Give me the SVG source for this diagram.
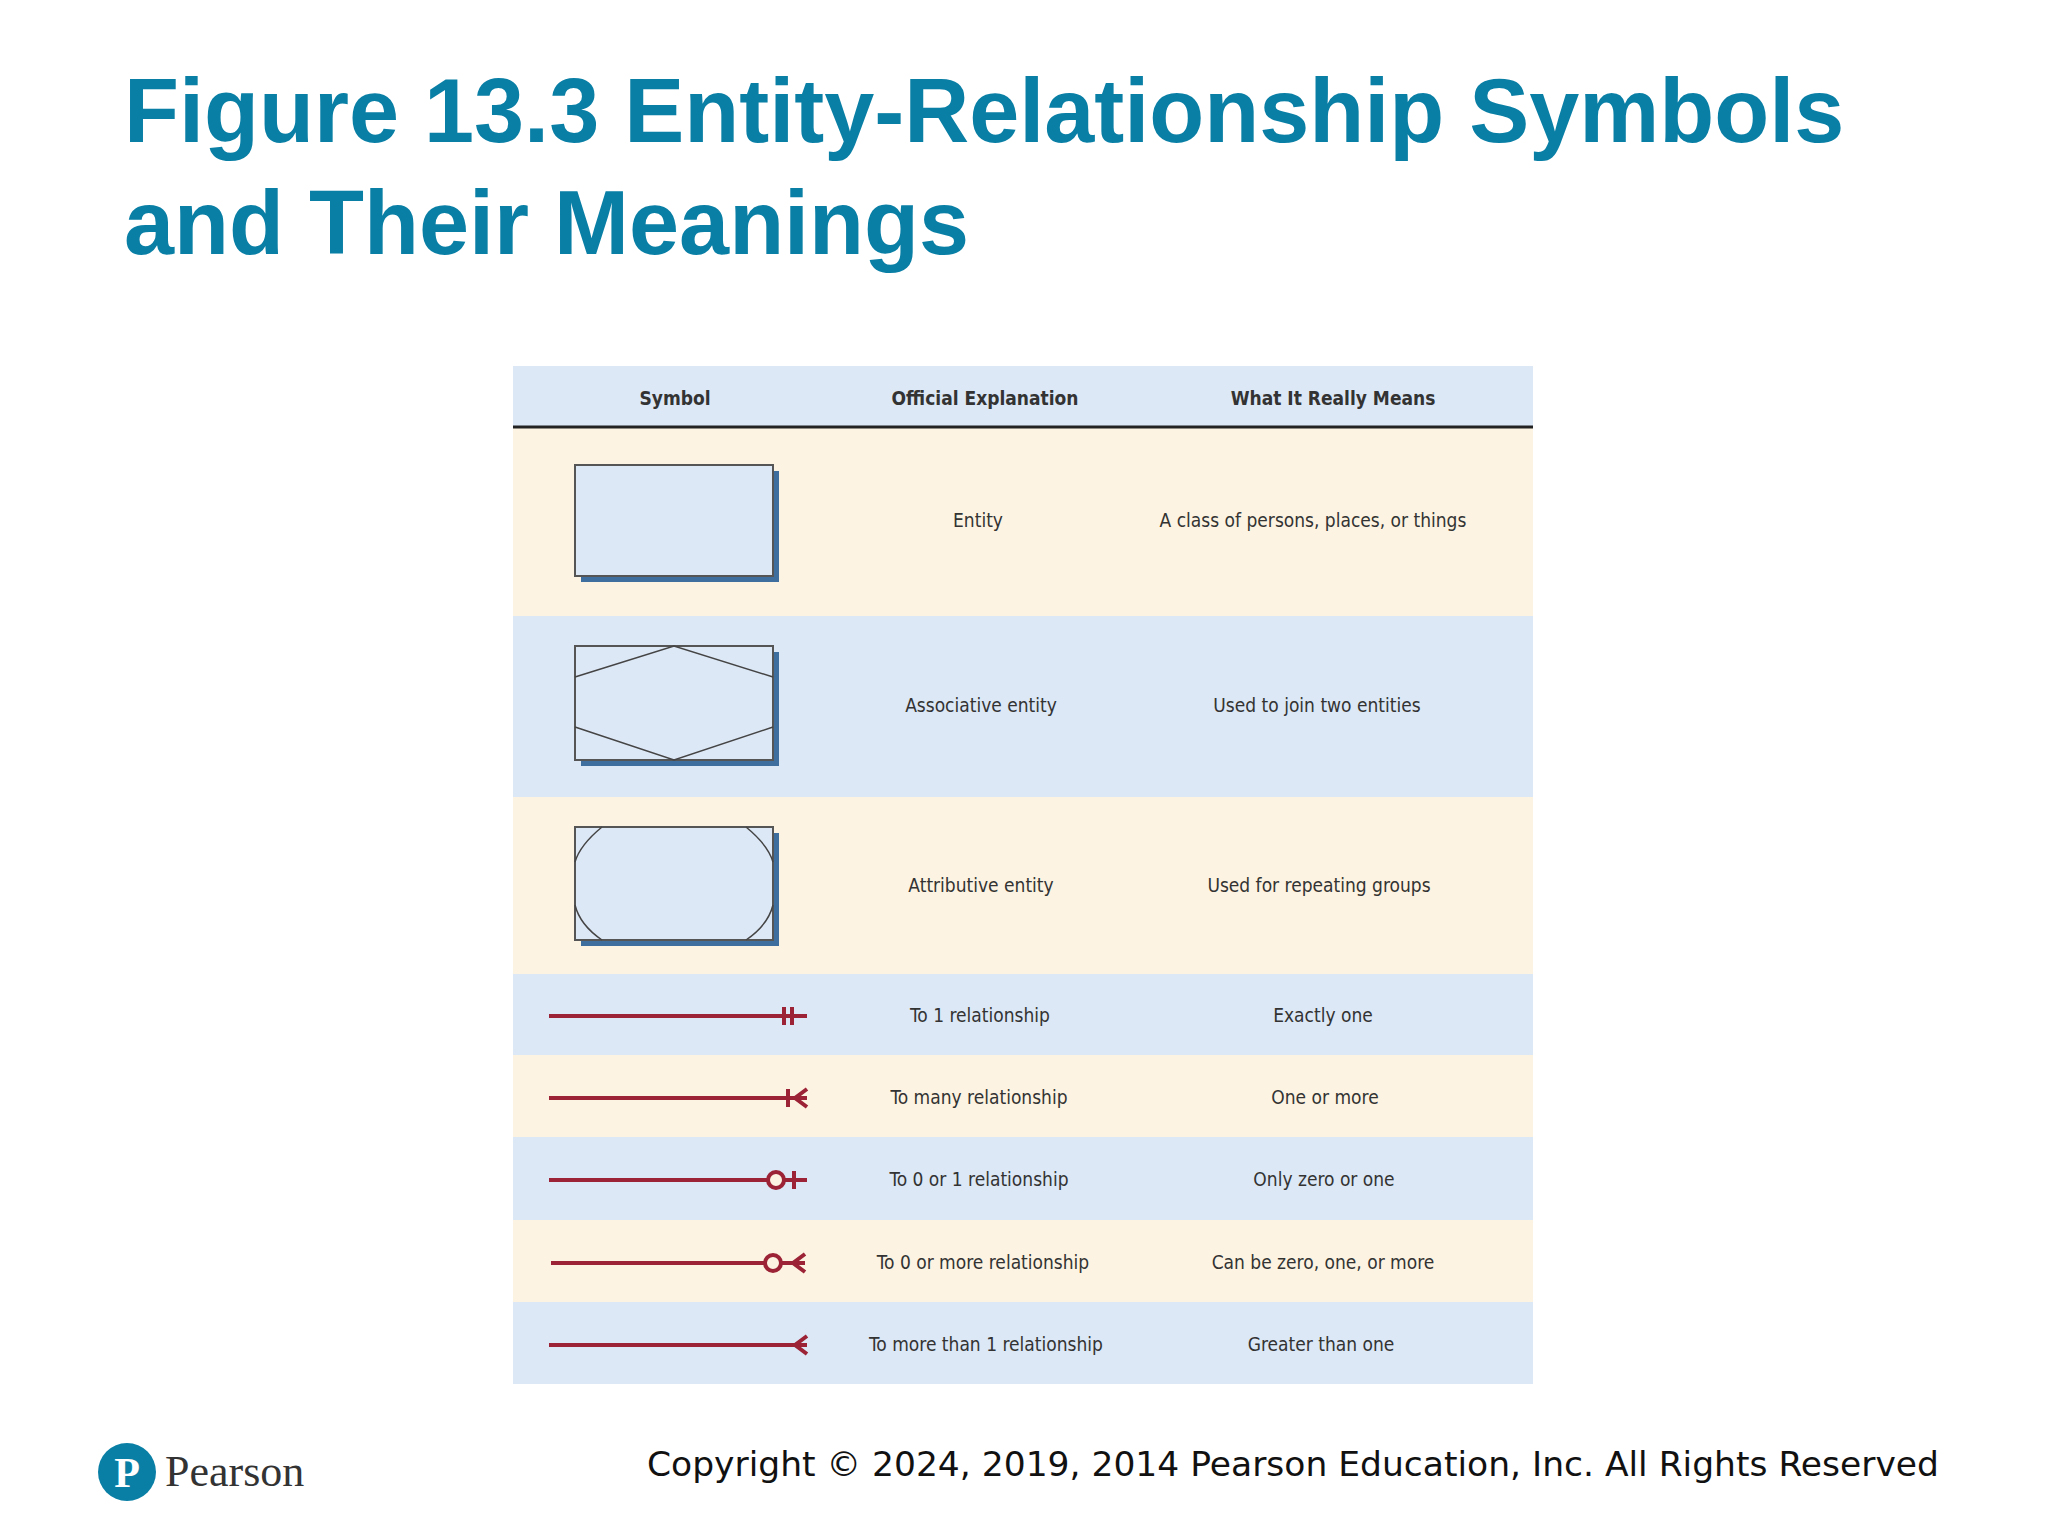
<svg xmlns="http://www.w3.org/2000/svg" width="2048" height="1536" viewBox="0 0 2048 1536">
<style>
.t{font-family:"DejaVu Sans Condensed","DejaVu Sans",sans-serif;font-size:19px;fill:#333;text-anchor:middle}
.h{font-weight:bold}
.box{fill:#dde8f6;stroke:#555;stroke-width:2}
.sh{fill:#3d6e9e}
.thin{fill:none;stroke:#444;stroke-width:1.5}
.rl{stroke:#9b2335;stroke-width:4;fill:none}
</style>
<rect width="2048" height="1536" fill="#fff"/>
<text x="124" y="142" font-family="Liberation Sans, Arial, sans-serif" font-weight="bold" font-size="90" fill="#0a7fa6">Figure 13.3 Entity-Relationship Symbols</text>
<text x="124" y="254" font-family="Liberation Sans, Arial, sans-serif" font-weight="bold" font-size="90" fill="#0a7fa6">and Their Meanings</text>
<g id="table">
<rect x="513" y="366" width="1020" height="60" fill="#dce8f6"/>
<rect x="513" y="428" width="1020" height="188" fill="#fdf3e2"/>
<rect x="513" y="616" width="1020" height="181" fill="#dce8f6"/>
<rect x="513" y="797" width="1020" height="177" fill="#fdf3e2"/>
<rect x="513" y="974" width="1020" height="81" fill="#dce8f6"/>
<rect x="513" y="1055" width="1020" height="82" fill="#fdf3e2"/>
<rect x="513" y="1137" width="1020" height="83" fill="#dce8f6"/>
<rect x="513" y="1220" width="1020" height="82" fill="#fdf3e2"/>
<rect x="513" y="1302" width="1020" height="82" fill="#dce8f6"/>
<line x1="513" y1="427" x2="1533" y2="427" stroke="#222" stroke-width="3"/>
<text class="t h" x="675" y="405">Symbol</text>
<text class="t h" x="985" y="405">Official Explanation</text>
<text class="t h" x="1333" y="405">What It Really Means</text>
</g>
<g id="entity">
<rect class="sh" x="581" y="471" width="198" height="111"/>
<rect class="box" x="575" y="465" width="198" height="111"/>
<text class="t" x="978" y="527">Entity</text>
<text class="t" x="1313" y="527">A class of persons, places, or things</text>
</g>
<g id="associative">
<rect class="sh" x="581" y="652" width="198" height="114"/>
<rect class="box" x="575" y="646" width="198" height="114"/>
<polyline class="thin" points="575,677 674,646 773,677"/>
<polyline class="thin" points="575,727 674,760 773,727"/>
<text class="t" x="981" y="712">Associative entity</text>
<text class="t" x="1317" y="712">Used to join two entities</text>
</g>
<g id="attributive">
<rect class="sh" x="581" y="833" width="198" height="113"/>
<rect class="box" x="575" y="827" width="198" height="113"/>
<path class="thin" d="M602,827 Q580,845 575,862 M746,827 Q768,845 773,862 M575,905 Q580,925 602,940 M773,905 Q768,925 746,940"/>
<text class="t" x="981" y="892">Attributive entity</text>
<text class="t" x="1319" y="892">Used for repeating groups</text>
</g>
<g id="connectors">
<g id="to1">
<line class="rl" x1="549" y1="1016" x2="807" y2="1016"/>
<line class="rl" x1="784" y1="1007" x2="784" y2="1025"/>
<line class="rl" x1="792" y1="1007" x2="792" y2="1025"/>
</g>
<g id="tomany">
<line class="rl" x1="549" y1="1098" x2="807" y2="1098"/>
<line class="rl" x1="788" y1="1089" x2="788" y2="1107"/>
<polyline class="rl" points="807,1089 795,1098 807,1107"/>
</g>
<g id="to01">
<line class="rl" x1="549" y1="1180" x2="807" y2="1180"/>
<circle cx="776" cy="1180" r="8" fill="#fdf3e2" stroke="#9b2335" stroke-width="4"/>
<line class="rl" x1="794" y1="1171" x2="794" y2="1189"/>
</g>
<g id="to0more">
<line class="rl" x1="551" y1="1263" x2="805" y2="1263"/>
<circle cx="773" cy="1263" r="8" fill="#fdf3e2" stroke="#9b2335" stroke-width="4"/>
<polyline class="rl" points="805,1254 793,1263 805,1272"/>
</g>
<g id="tomorethan1">
<line class="rl" x1="549" y1="1345" x2="807" y2="1345"/>
<polyline class="rl" points="807,1336 795,1345 807,1354"/>
</g>
</g>
<g id="rowtext">
<text class="t" x="980" y="1022">To 1 relationship</text>
<text class="t" x="1323" y="1022">Exactly one</text>
<text class="t" x="979" y="1104">To many relationship</text>
<text class="t" x="1325" y="1104">One or more</text>
<text class="t" x="979" y="1186">To 0 or 1 relationship</text>
<text class="t" x="1324" y="1186">Only zero or one</text>
<text class="t" x="983" y="1269">To 0 or more relationship</text>
<text class="t" x="1323" y="1269">Can be zero, one, or more</text>
<text class="t" x="986" y="1351">To more than 1 relationship</text>
<text class="t" x="1321" y="1351">Greater than one</text>
</g>
<g id="footer">
<circle cx="127" cy="1472" r="29" fill="#0a7fa6"/>
<text x="127" y="1487" font-family="Liberation Serif, serif" font-weight="bold" font-size="42" fill="#fff" text-anchor="middle">P</text>
<text x="165" y="1486" font-family="Liberation Serif, serif" font-size="44" fill="#333">Pearson</text>
<text x="1939" y="1476" font-family="DejaVu Sans, sans-serif" font-size="34.5" fill="#111" text-anchor="end">Copyright © 2024, 2019, 2014 Pearson Education, Inc. All Rights Reserved</text>
</g>
</svg>
